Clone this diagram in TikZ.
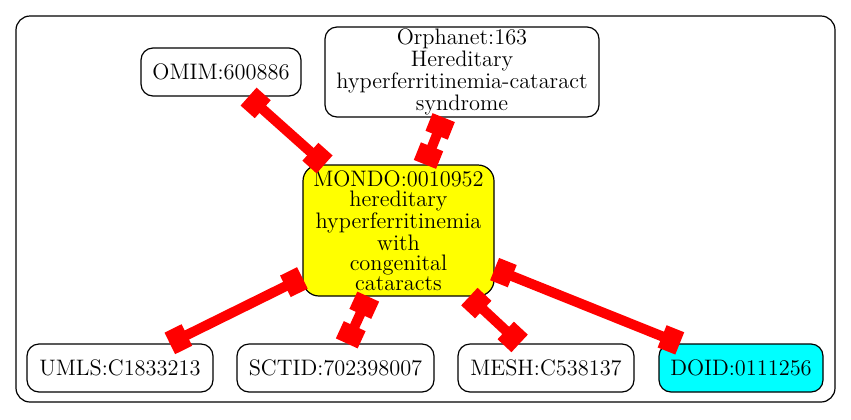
\documentclass[tikz,border=0pt]{standalone}
\usetikzlibrary{arrows.meta}
\definecolor{ylw}{RGB}{255,255,0}
\definecolor{cyn}{RGB}{0,255,255}
\definecolor{rd}{RGB}{255,0,0}
\begin{document}
\begin{tikzpicture}[x=0.5pt,y=-0.5pt,
 nd/.style={draw=black,line width=0.6pt,rounded corners=6pt,align=center,inner sep=0pt,font=\fontsize{11.2}{9.9}\selectfont},
 lk/.style={color=rd,line width=5pt,{Rectangle[length=9.5pt,width=12pt]}-{Rectangle[length=9.5pt,width=12pt]}}]
\useasboundingbox (0,0) rectangle (851,419);
\draw[line width=0.6pt,rounded corners=7pt] (16,16) rectangle (835,402);
\node[nd,minimum width=80pt,minimum height=24pt] (omim) at (221,72) {OMIM:600886};
\node[nd,minimum width=137pt,minimum height=45pt] (orpha) at (462,72) {Orphanet:163\\Hereditary\\hyperferritinemia-cataract\\syndrome};
\node[nd,fill=ylw,rounded corners=8pt,minimum width=95.5pt,minimum height=65.5pt] (mondo) at (398.5,230.5) {MONDO:0010952\\hereditary\\hyperferritinemia\\with\\congenital\\cataracts};
\node[nd,minimum width=93pt,minimum height=24pt] (umls) at (120,368) {UMLS:C1833213};
\node[nd,minimum width=98.5pt,minimum height=24pt] (sctid) at (335.5,368) {SCTID:702398007};
\node[nd,minimum width=88pt,minimum height=24pt] (mesh) at (546,368) {MESH:C538137};
\node[nd,fill=cyn,minimum width=82pt,minimum height=24pt] (doid) at (741,368) {DOID:0111256};
\draw[lk] (omim) -- (mondo);
\draw[lk] (orpha) -- (mondo);
\draw[lk] (mondo) -- (umls);
\draw[lk] (mondo) -- (sctid);
\draw[lk] (mondo) -- (mesh);
\draw[lk] (mondo) -- (doid);
\end{tikzpicture}
\end{document}
